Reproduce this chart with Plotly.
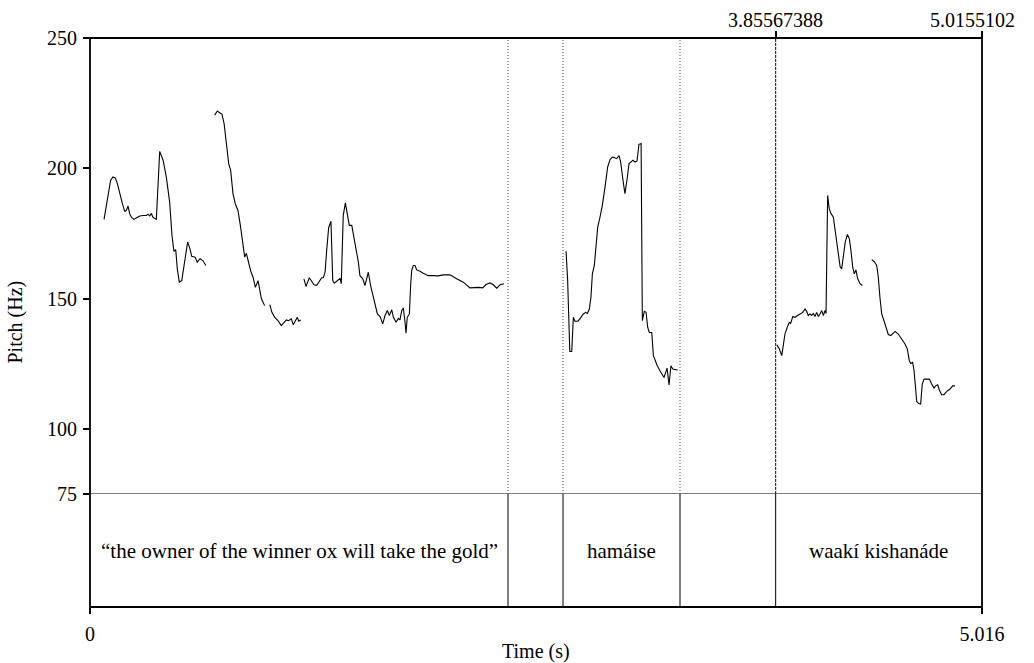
import plotly.graph_objects as go

# ---------------- data ----------------
T_MAX = 5.016
Y_MIN, Y_MAX = 75, 250
y_ticks = [75, 100, 150, 200, 250]

seg1_t = [0.079, 0.097, 0.116, 0.129, 0.142, 0.154, 0.167, 0.180, 0.195, 0.204, 0.214, 0.223, 0.232,
          0.247, 0.260, 0.280, 0.298, 0.317, 0.326, 0.336, 0.345, 0.354, 0.373, 0.392, 0.411, 0.429,
          0.448, 0.461, 0.472, 0.482, 0.491, 0.502, 0.516, 0.534, 0.549, 0.562, 0.572, 0.591, 0.603,
          0.619, 0.634, 0.652]
seg1_f = [180.4, 187.0, 195.4, 196.7, 196.3, 194.1, 190.3, 187.0, 183.5, 183.8, 185.5, 182.6, 181.3,
          180.4, 180.9, 181.7, 181.9, 181.9, 182.4, 181.7, 182.7, 181.2, 180.4, 206.5, 203.1, 196.7,
          187.0, 174.2, 168.1, 168.8, 161.4, 156.3, 156.9, 165.9, 171.7, 169.1, 166.2, 165.9, 164.0,
          165.3, 164.6, 162.7]

seg2_t = [0.701, 0.716, 0.729, 0.742, 0.754, 0.766, 0.780, 0.791, 0.804, 0.817, 0.832, 0.847, 0.860,
          0.870, 0.879, 0.888, 0.904, 0.917, 0.930, 0.945, 0.955, 0.964, 0.982]
seg2_f = [220.4, 222.0, 221.3, 220.8, 217.2, 209.5, 201.8, 199.2, 190.3, 186.4, 183.8, 177.4, 171.0,
          165.9, 167.4, 164.6, 160.5, 158.2, 154.3, 156.9, 153.7, 149.9, 147.3]

seg3_t = [1.011, 1.023, 1.039, 1.057, 1.076, 1.091, 1.104, 1.117, 1.132, 1.143, 1.154, 1.166, 1.174, 1.185]
seg3_f = [147.7, 144.7, 142.8, 141.5, 139.6, 140.9, 141.8, 141.5, 142.2, 140.0, 141.5, 142.8, 141.3, 141.8]

seg4_t = [1.203, 1.215, 1.233, 1.247, 1.260, 1.275, 1.289, 1.303, 1.312, 1.322, 1.331, 1.342, 1.355,
          1.365, 1.374, 1.387, 1.396, 1.406, 1.413, 1.424, 1.436, 1.447, 1.458, 1.472, 1.481, 1.496,
          1.509, 1.518, 1.534, 1.546, 1.565, 1.578, 1.597, 1.616, 1.631, 1.646, 1.659, 1.672, 1.683,
          1.697, 1.706, 1.721, 1.734, 1.743, 1.753, 1.762, 1.771, 1.777, 1.784, 1.796, 1.803, 1.809,
          1.818, 1.828, 1.837, 1.856, 1.874, 1.902, 1.931, 1.959, 1.987, 2.024, 2.062, 2.099, 2.137,
          2.165, 2.184, 2.208, 2.227, 2.249, 2.268, 2.287, 2.306, 2.328]
seg4_f = [157.6, 154.6, 158.0, 156.7, 155.3, 155.1, 156.7, 158.0, 158.0, 160.1, 168.5, 177.2, 179.7,
          156.9, 155.9, 156.7, 156.9, 157.7, 155.7, 181.9, 186.7, 181.9, 178.1, 178.1, 174.9, 169.1,
          164.0, 158.8, 157.6, 155.0, 160.1, 155.0, 149.2, 144.1, 143.1, 140.3, 143.5, 145.4, 143.5,
          145.7, 142.8, 140.9, 142.4, 141.8, 145.4, 146.4, 141.3, 136.7, 142.8, 144.1, 155.0, 160.8,
          162.7, 162.7, 161.0, 160.5, 159.7, 158.8, 158.8, 158.7, 159.1, 159.1, 157.6, 156.3, 154.1,
          154.3, 154.3, 154.1, 155.4, 156.0, 155.3, 154.0, 155.3, 155.7]

seg5_t = [2.677, 2.686, 2.698, 2.709, 2.718, 2.727, 2.743, 2.755, 2.774, 2.788, 2.797, 2.808, 2.817,
          2.825, 2.836, 2.844, 2.855, 2.868, 2.881, 2.896, 2.911, 2.924, 2.937, 2.948, 2.962, 2.975,
          2.984, 2.996, 3.008, 3.020, 3.031, 3.042, 3.053, 3.065, 3.076, 3.087, 3.099, 3.106, 3.117,
          3.127, 3.136, 3.145, 3.159, 3.168, 3.177, 3.190, 3.205, 3.215, 3.228, 3.237, 3.245, 3.256,
          3.267, 3.277, 3.294, 3.305]
seg5_f = [168.2, 156.9, 129.7, 129.7, 142.8, 141.3, 141.3, 142.2, 144.1, 144.7, 144.3, 146.0, 150.5,
          159.5, 162.7, 169.7, 177.4, 181.3, 185.8, 192.8, 200.5, 203.3, 204.3, 204.1, 203.7, 204.9,
          202.4, 196.0, 190.3, 195.7, 201.8, 202.4, 203.1, 202.4, 202.8, 209.2, 209.5, 141.5, 145.1,
          144.7, 139.0, 137.0, 137.0, 128.1, 126.2, 124.2, 122.3, 121.3, 119.7, 121.7, 123.3, 116.9,
          124.2, 123.0, 122.6, 122.6]

seg6_t = [3.862, 3.876, 3.890, 3.899, 3.908, 3.921, 3.932, 3.940, 3.952, 3.964, 3.977, 3.993, 4.008,
          4.021, 4.030, 4.039, 4.049, 4.058, 4.067, 4.077, 4.086, 4.096, 4.105, 4.115, 4.124, 4.133,
          4.139, 4.148, 4.157, 4.167, 4.180, 4.193, 4.205, 4.218, 4.227, 4.236, 4.247, 4.259, 4.270,
          4.279, 4.289, 4.298, 4.307, 4.317, 4.330, 4.343]
seg6_f = [132.3, 130.7, 128.1, 132.6, 136.4, 139.0, 140.9, 140.5, 143.1, 142.8, 143.5, 144.1, 144.7,
          146.0, 145.1, 143.5, 144.1, 143.5, 144.3, 143.1, 144.7, 143.1, 144.1, 145.4, 143.5, 145.4,
          144.3, 189.6, 184.5, 182.6, 181.3, 174.9, 168.5, 162.3, 161.4, 165.9, 171.7, 174.6, 173.0,
          168.5, 162.0, 159.5, 161.0, 157.6, 155.7, 155.0]

seg7_t = [4.396, 4.410, 4.424, 4.433, 4.442, 4.452, 4.465, 4.476, 4.489, 4.503, 4.514, 4.527, 4.545,
          4.564, 4.583, 4.596, 4.607, 4.615, 4.626, 4.634, 4.641, 4.649, 4.660, 4.671, 4.680, 4.690,
          4.705, 4.720, 4.733, 4.746, 4.755, 4.767, 4.776, 4.789, 4.802, 4.817, 4.836, 4.851, 4.864]
seg7_f = [164.9, 164.2, 162.7, 158.2, 150.5, 144.1, 141.5, 139.0, 136.2, 135.8, 136.7, 137.4, 136.4,
          134.5, 132.6, 130.7, 126.2, 125.1, 125.5, 122.3, 115.9, 110.5, 109.7, 109.5, 117.2, 119.1,
          119.1, 119.1, 117.2, 115.7, 116.5, 116.9, 114.9, 113.1, 113.1, 114.3, 115.3, 116.5, 116.5]

segments = [(seg1_t, seg1_f), (seg2_t, seg2_f), (seg3_t, seg3_f), (seg4_t, seg4_f),
            (seg5_t, seg5_f), (seg6_t, seg6_f), (seg7_t, seg7_f)]

boundaries = [2.3506, 2.660, 3.3178, 3.85567388]
marker_time = 3.85567388
end_time = 5.0155102
tier_labels = ["\u201cthe owner of the winner ox will take the gold\u201d", "", "hamáise", "", "waakí kishanáde"]
tier_edges = [0.0] + boundaries + [T_MAX]

# ---------------- figure ----------------
FONT = "Liberation Serif"
FS = 20
fig = go.Figure()

for t, f in segments:
    fig.add_trace(go.Scatter(x=t, y=f, mode="lines", line=dict(color="black", width=1.1),
                             xaxis="x", yaxis="y", showlegend=False, hoverinfo="skip"))

# invisible trace for the tier axis
fig.add_trace(go.Scatter(x=[0, T_MAX], y=[0, 1], mode="none", xaxis="x", yaxis="y2",
                         showlegend=False, hoverinfo="skip"))
# invisible trace for top axis
fig.add_trace(go.Scatter(x=[0, T_MAX], y=[Y_MIN, Y_MIN], mode="none", xaxis="x2", yaxis="y",
                         showlegend=False, hoverinfo="skip"))

frac = 456 / 569
shapes = []
# outer frame
shapes.append(dict(type="rect", xref="paper", yref="paper", x0=0, x1=1, y0=0, y1=1,
                   line=dict(color="black", width=1.8)))
# line at 75 Hz separating pitch and tier
shapes.append(dict(type="line", xref="paper", yref="y", x0=0, x1=1, y0=Y_MIN, y1=Y_MIN,
                   line=dict(color="black", width=1)))
for b in boundaries:
    is_marker = abs(b - marker_time) < 1e-6
    shapes.append(dict(type="line", xref="x", yref="y2", x0=b, x1=b, y0=0, y1=1,
                       line=dict(color="black", width=1)))
    shapes.append(dict(type="line", xref="x", yref="y", x0=b, x1=b, y0=Y_MIN, y1=Y_MAX,
                       line=dict(color="#111111" if is_marker else "#444444", width=1,
                                 dash="3px,1px" if is_marker else "1px,2px")))

annotations = []
for i, lab in enumerate(tier_labels):
    if lab:
        annotations.append(dict(x=(tier_edges[i] + tier_edges[i + 1]) / 2, y=0.5, xref="x", yref="y2",
                                xanchor="center", text=lab, showarrow=False,
                                font=dict(family=FONT, size=21, color="black")))
annotations.append(dict(x=marker_time, y=1, xref="x", yref="paper", yshift=5, yanchor="bottom",
                        xanchor="center", text="3.85567388", showarrow=False,
                        font=dict(family=FONT, size=FS, color="black")))
annotations.append(dict(x=end_time, y=1, xref="x", yref="paper", yshift=5, yanchor="bottom", xshift=-9,
                        xanchor="center", text="5.0155102", showarrow=False,
                        font=dict(family=FONT, size=FS, color="black")))
annotations.append(dict(text="Pitch (Hz)", xref="paper", yref="paper", x=0, y=0.5, xshift=-75,
                        xanchor="center", yanchor="middle", textangle=-90, showarrow=False,
                        font=dict(family=FONT, size=FS, color="black")))
annotations.append(dict(text="Time (s)", xref="paper", yref="paper", x=0.5, y=0, yshift=-44,
                        xanchor="center", yanchor="middle", showarrow=False,
                        font=dict(family=FONT, size=FS, color="black")))

fig.update_layout(
    width=1034, height=663,
    margin=dict(l=90, r=52, t=38, b=56, autoexpand=False),
    paper_bgcolor="white", plot_bgcolor="white",
    font=dict(family=FONT, size=FS, color="black"),
    showlegend=False,
    shapes=shapes, annotations=annotations,
    xaxis=dict(range=[0, T_MAX], domain=[0, 1], anchor="y2", showgrid=False, zeroline=False,
               showline=False, tickvals=[0, T_MAX], ticktext=["0", "5.016"], ticks="outside",
               ticklen=6, tickwidth=1.5, tickcolor="black", tickfont=dict(family=FONT, size=FS),
               ticklabelstandoff=3, automargin=False),
    xaxis2=dict(range=[0, T_MAX], overlaying="x", side="top", anchor="y", showgrid=False,
                zeroline=False, showline=False, tickvals=[marker_time, end_time], automargin=False,
                showticklabels=False, ticks="outside", ticklen=6, tickwidth=1.5, tickcolor="black"),
    yaxis=dict(range=[Y_MIN, Y_MAX], domain=[1 - frac, 1], anchor="x", showgrid=False, zeroline=False,
               showline=False, tickvals=y_ticks, ticks="outside", ticklen=6, tickwidth=1.5,
               tickcolor="black", ticklabelstandoff=2, tickfont=dict(family=FONT, size=FS),
               automargin=False),
    yaxis2=dict(range=[0, 1], domain=[0, 1 - frac], anchor="x", showgrid=False, zeroline=False,
                showline=False, showticklabels=False, ticks="", automargin=False),
)

fig.write_html("out.html")
